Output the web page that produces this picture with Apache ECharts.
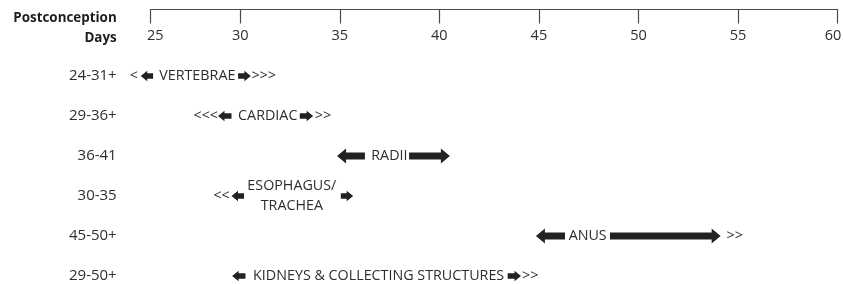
<!DOCTYPE html>
<html>
<head>
<meta charset="utf-8">
<script src="https://cdn.jsdelivr.net/npm/echarts@6/dist/echarts.min.js"></script>
<style>
  html, body { margin: 0; padding: 0; background: #fff; }
  #chart { width: 843px; height: 284px; }
</style>
</head>
<body>
<div id="chart"></div>
<script>
var FONT = "'Open Sans', sans-serif";

var rowNames = ["24-31+", "29-36+", "36-41", "30-35", "45-50+", "29-50+"];

// axis starts a little right of 25 in the original, so first tick is drawn at 25.5
var tickValues = [25.5, 30, 35, 40, 45, 50, 55, 60];
var tickLabels = ["25", "30", "35", "40", "45", "50", "55", "60"];

// block arrows: [row, tail day, tip day]
var arrows = [
  [0, 25.62, 25.0], [0, 29.89, 30.53],
  [1, 29.56, 28.88], [1, 32.99, 33.66],
  [2, 36.26, 34.86], [2, 38.48, 40.53],
  [3, 30.19, 29.56], [3, 35.05, 35.67],
  [4, 46.31, 44.85], [4, 48.57, 54.13],
  [5, 30.26, 29.59], [5, 43.43, 44.1]
];

// structure names: [row, centre day, text]
var names = [
  [0, 27.84, "VERTEBRAE"],
  [1, 31.38, "CARDIAC"],
  [2, 37.49, "RADII"],
  [3, 32.59, "ESOPHAGUS/\nTRACHEA"],
  [4, 47.45, "ANUS"],
  [5, 36.95, "KIDNEYS & COLLECTING STRUCTURES"]
];

// continuation marks before the left arrow (text ends at day)
var leadMarks = [[0, 24.86, "<"], [1, 28.88, "<<<"], [3, 29.47, "<<"]];
// continuation marks after the right arrow (text starts at day)
var trailMarks = [[0, 30.56, ">>>"], [1, 33.74, ">>"], [4, 54.43, ">>"], [5, 44.15, ">>"]];

function renderArrow(params, api) {
  var row = api.value(0);
  var a = api.coord([api.value(1), row]);
  var b = api.coord([api.value(2), row]);
  var dir = b[0] > a[0] ? 1 : -1;
  var len = Math.abs(b[0] - a[0]);
  var big = len > 20;
  var headLen = big ? 9 : 6.5;
  var headH = big ? 7.4 : 5.2;
  var shaft = big ? 3.6 : 2.8;
  var y = a[1];
  var neck = b[0] - dir * headLen;
  return {
    type: "polygon",
    shape: {
      points: [
        [a[0], y - shaft], [neck, y - shaft], [neck, y - headH],
        [b[0], y], [neck, y + headH], [neck, y + shaft], [a[0], y + shaft]
      ]
    },
    style: { fill: "#222222" }
  };
}

function textRenderer(align) {
  return function (params, api) {
    var p = api.coord([api.value(1), api.value(0)]);
    return {
      type: "text",
      x: p[0],
      y: p[1],
      style: {
        text: api.value(2),
        fill: "#2e2e2e",
        fontSize: 14.3,
        fontFamily: FONT,
        align: align,
        verticalAlign: "middle",
        lineHeight: 20
      }
    };
  };
}

var chart = echarts.init(document.getElementById("chart"));

chart.setOption({
  animation: false,
  grid: { left: 150.7, right: 5.5, top: 76, bottom: 8, outerBoundsMode: "none", containLabel: false },
  xAxis: {
    type: "value",
    position: "top",
    min: 25.5,
    max: 60,
    offset: 66.5,
    axisLine: { show: true, onZero: false, lineStyle: { color: "#4a4a4a", width: 1.2 } },
    axisTick: { show: true, inside: true, length: 14, customValues: tickValues, lineStyle: { color: "#4a4a4a", width: 1.2 } },
    axisLabel: {
      inside: true,
      margin: 19,
      customValues: tickValues,
      color: "#2e2e2e",
      fontSize: 14.5,
      fontFamily: FONT,
      formatter: function (v) {
        var i = tickValues.indexOf(v);
        if (i < 0) return "";
        if (i === 0) return "{first|" + tickLabels[i] + "}";
        if (i === tickValues.length - 1) return "{last|" + tickLabels[i] + "}";
        return tickLabels[i];
      },
      rich: {
        first: { fontSize: 14.5, fontFamily: FONT, color: "#2e2e2e", padding: [0, 0, 0, 9] },
        last: { fontSize: 14.5, fontFamily: FONT, color: "#2e2e2e", padding: [0, 9, 0, 0] }
      }
    },
    splitLine: { show: false }
  },
  yAxis: {
    type: "value",
    inverse: true,
    min: 0,
    max: 5,
    interval: 1,
    axisLine: { show: false },
    axisTick: { show: false },
    splitLine: { show: false },
    axisLabel: {
      margin: 34,
      color: "#2e2e2e",
      fontSize: 15,
      fontFamily: FONT,
      formatter: function (v) { return rowNames[v] || ""; }
    }
  },
  graphic: [
    { type: "text", x: 116.7, y: 17.7, style: { text: "Postconception", align: "right", verticalAlign: "middle", fill: "#1e1e1e", fontSize: 13.4, fontWeight: "bold", fontFamily: FONT } },
    { type: "text", x: 116.7, y: 38, style: { text: "Days", align: "right", verticalAlign: "middle", fill: "#1e1e1e", fontSize: 13.4, fontWeight: "bold", fontFamily: FONT } }
  ],
  series: [
    { type: "custom", renderItem: renderArrow, data: arrows, encode: { x: 1, y: 0 }, clip: false, silent: true },
    { type: "custom", renderItem: textRenderer("center"), data: names, encode: { x: 1, y: 0 }, clip: false, silent: true },
    { type: "custom", renderItem: textRenderer("right"), data: leadMarks, encode: { x: 1, y: 0 }, clip: false, silent: true },
    { type: "custom", renderItem: textRenderer("left"), data: trailMarks, encode: { x: 1, y: 0 }, clip: false, silent: true }
  ]
});
</script>
</body>
</html>
